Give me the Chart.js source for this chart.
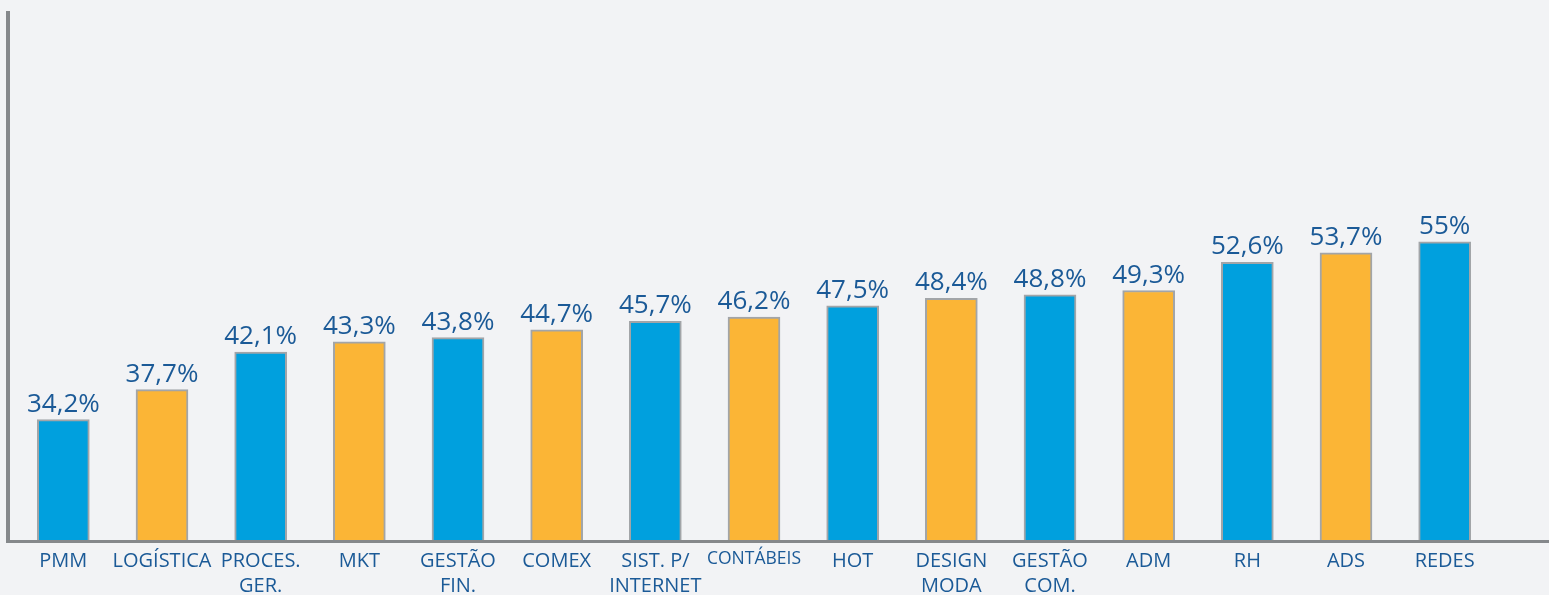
<!DOCTYPE html>
<html>
<head>
<meta charset="utf-8">
<script src="https://cdn.jsdelivr.net/npm/chart.js@4"></script>
<style>
    html, body { margin: 0; padding: 0; background: #f2f3f5; overflow: hidden; }
    #wrap { width: 1549px; height: 595px; }
</style>
</head>
<body>
<div id="wrap"><canvas id="barChart"></canvas></div>
<script>
// Course names (multi-line where the original wraps)
const courses = [
    'PMM', 'LOGÍSTICA', ['PROCES.', 'GER.'], 'MKT', ['GESTÃO', 'FIN.'], 'COMEX',
    ['SIST. P/', 'INTERNET'], 'CONTÁBEIS', 'HOT', ['DESIGN', 'MODA'], ['GESTÃO', 'COM.'],
    'ADM', 'RH', 'ADS', 'REDES'
];
// Percentages
const percents = [34.2, 37.7, 42.1, 43.3, 43.8, 44.7, 45.7, 46.2, 47.5, 48.4, 48.8, 49.3, 52.6, 53.7, 55];
// Labels printed on top of each bar
const percentLabels = ['34,2%', '37,7%', '42,1%', '43,3%', '43,8%', '44,7%', '45,7%', '46,2%',
    '47,5%', '48,4%', '48,8%', '49,3%', '52,6%', '53,7%', '55%'];

const BLUE = '#00a0de';
const ORANGE = '#fbb536';
const TEXT = '#1b5a97';

// Bars alternate blue / orange
const barColors = percents.map((v, i) => i % 2 === 0 ? BLUE : ORANGE);

// Draws the two axis lines (left one and the long bottom one) and the value labels
const decorations = {
    id: 'decorations',
    afterDatasetsDraw(chart) {
        const ctx = chart.ctx;
        const area = chart.chartArea;
        ctx.save();
        ctx.fillStyle = '#85888b';
        ctx.fillRect(6, area.top, 4, area.bottom - area.top + 2);
        ctx.fillRect(6, area.bottom - 1, chart.width - 6, 3);

        ctx.fillStyle = TEXT;
        ctx.font = '26px "Open Sans"';
        ctx.textAlign = 'center';
        ctx.textBaseline = 'alphabetic';
        chart.getDatasetMeta(0).data.forEach((bar, i) => {
            ctx.fillText(percentLabels[i], bar.x, bar.y - 8);
        });
        ctx.restore();
    }
};

const ctx = document.getElementById('barChart').getContext('2d');
new Chart(ctx, {
    type: 'bar',
    data: {
        labels: courses,
        datasets: [{
            data: percents,
            backgroundColor: barColors,
            borderColor: '#a2a5a8',
            borderWidth: 2,
            borderSkipped: false,
            barThickness: 52
        }]
    },
    options: {
        responsive: true,
        maintainAspectRatio: false,
        animation: false,
        layout: {
            padding: { left: 14, right: 55, top: 11, bottom: 0 }
        },
        plugins: {
            legend: { display: false },
            tooltip: { enabled: false }
        },
        scales: {
            y: {
                display: false,
                min: 20,
                max: 82
            },
            x: {
                grid: { display: false, drawTicks: false },
                border: { display: false },
                // the second label line runs off the bottom edge, as in the original
                afterFit: (scale) => { scale.height = 54; },
                ticks: {
                    color: TEXT,
                    padding: 7,
                    maxRotation: 0,
                    autoSkip: false,
                    font: (c) => ({
                        family: '"Open Sans"',
                        size: c.index === 7 ? 17.5 : 20,
                        lineHeight: 1.28
                    })
                }
            }
        }
    },
    plugins: [decorations]
});
</script>
</body>
</html>
